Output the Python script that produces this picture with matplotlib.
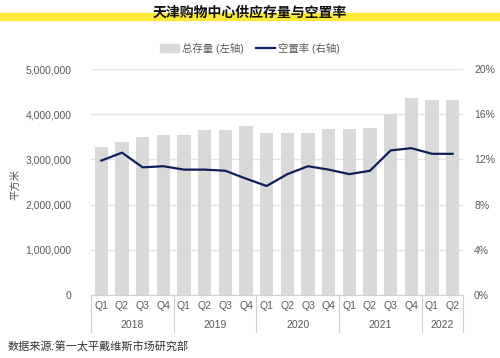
import numpy as np
import matplotlib
matplotlib.use("Agg")
import matplotlib.pyplot as plt
import matplotlib.transforms as mtransforms
from matplotlib.ticker import FuncFormatter, MultipleLocator
from matplotlib.patches import Patch
from matplotlib.lines import Line2D

plt.rcParams['font.family'] = ['Liberation Sans', 'Noto Sans CJK SC', 'DejaVu Sans']

# data
quarters = ["Q1", "Q2", "Q3", "Q4"] * 4 + ["Q1", "Q2"]
years = ["2018", "2019", "2020", "2021", "2022"]
year_counts = [4, 4, 4, 4, 2]
stock = [3270000, 3390000, 3500000, 3540000,
         3540000, 3650000, 3650000, 3740000,
         3580000, 3580000, 3580000, 3670000,
         3670000, 3690000, 4000000, 4350000,
         4310000, 4310000]
vacancy = [11.9, 12.6, 11.3, 11.4,
           11.1, 11.1, 11.0, 10.3,
           9.65, 10.7, 11.4, 11.1,
           10.7, 11.0, 12.8, 13.0,
           12.5, 12.5]

bar_color = "#d9d9d9"
line_color = "#0f1f5c"
text_color = "#595959"
grid_color = "#e3e3e3"

fig = plt.figure(figsize=(5, 3.58), dpi=100)
ax = fig.add_axes([0.182, 0.176, 0.744, 0.631])
ax2 = ax.twinx()

x = np.arange(len(stock))
ax.bar(x, stock, width=0.64, color=bar_color, zorder=2)
ax2.plot(x, vacancy, color=line_color, lw=1.6, zorder=3)

ax.set_xlim(-0.5, len(stock) - 0.5)
ax.set_ylim(0, 5000000)
ax2.set_ylim(0, 20)
ax.yaxis.set_major_locator(MultipleLocator(1000000))
ax2.yaxis.set_major_locator(MultipleLocator(4))
ax.yaxis.set_major_formatter(FuncFormatter(lambda v, p: f"{int(v):,}"))
ax2.yaxis.set_major_formatter(FuncFormatter(lambda v, p: f"{int(v)}%"))
ax.grid(axis="y", color=grid_color, lw=1, zorder=0)
ax.set_axisbelow(True)

for a in (ax, ax2):
    for s in a.spines.values():
        s.set_visible(False)
    a.tick_params(length=0, labelsize=7.5, colors=text_color)
ax.spines["bottom"].set_visible(True)
ax.spines["bottom"].set_color("#d0d0d0")
ax.tick_params(axis="y", pad=14)
ax2.tick_params(axis="y", pad=8)

ax.set_xticks(x)
ax.set_xticklabels(quarters)
ax.tick_params(axis="x", pad=4)

trans = mtransforms.blended_transform_factory(ax.transData, ax.transAxes)
edges = np.concatenate([[0], np.cumsum(year_counts)]) - 0.5
for e in edges:
    ax.plot([e, e], [0, -0.165], transform=trans, color="#d0d0d0", lw=0.8, clip_on=False)
for i, yr in enumerate(years):
    mid = (edges[i] + edges[i + 1]) / 2
    ax.text(mid, -0.135, yr, transform=trans, ha="center", va="center",
            fontsize=7.5, color=text_color)

ax.set_ylabel("平方米", color=text_color, fontsize=7.5)
ax.yaxis.set_label_coords(-0.19, 0.49)

# title with yellow band
fig.patches.append(plt.Rectangle((0, 1 - 20 / 358), 1, 7 / 358, transform=fig.transFigure,
                                 color="#fde93a", zorder=0))
fig.text(0.5, 1 - 13 / 358, "天津购物中心供应存量与空置率", ha="center", va="center",
         fontsize=10, fontweight="bold", color="#111111")

handles = [Patch(color=bar_color, label="总存量 (左轴)"),
           Line2D([0], [0], color=line_color, lw=1.6, label="空置率 (右轴)")]
fig.legend(handles=handles, loc="center", bbox_to_anchor=(0.5, 1 - 48 / 358), ncol=2,
           frameon=False, fontsize=7.5, labelcolor=text_color, handlelength=1.8,
           handleheight=0.8, columnspacing=1.2, handletextpad=0.3)

fig.text(8 / 500, 1 - 347 / 358, "数据来源:第一太平戴维斯市场研究部", ha="left", va="center",
         fontsize=8, style="italic", color="#333333")

fig.savefig("out.png", dpi=100)
